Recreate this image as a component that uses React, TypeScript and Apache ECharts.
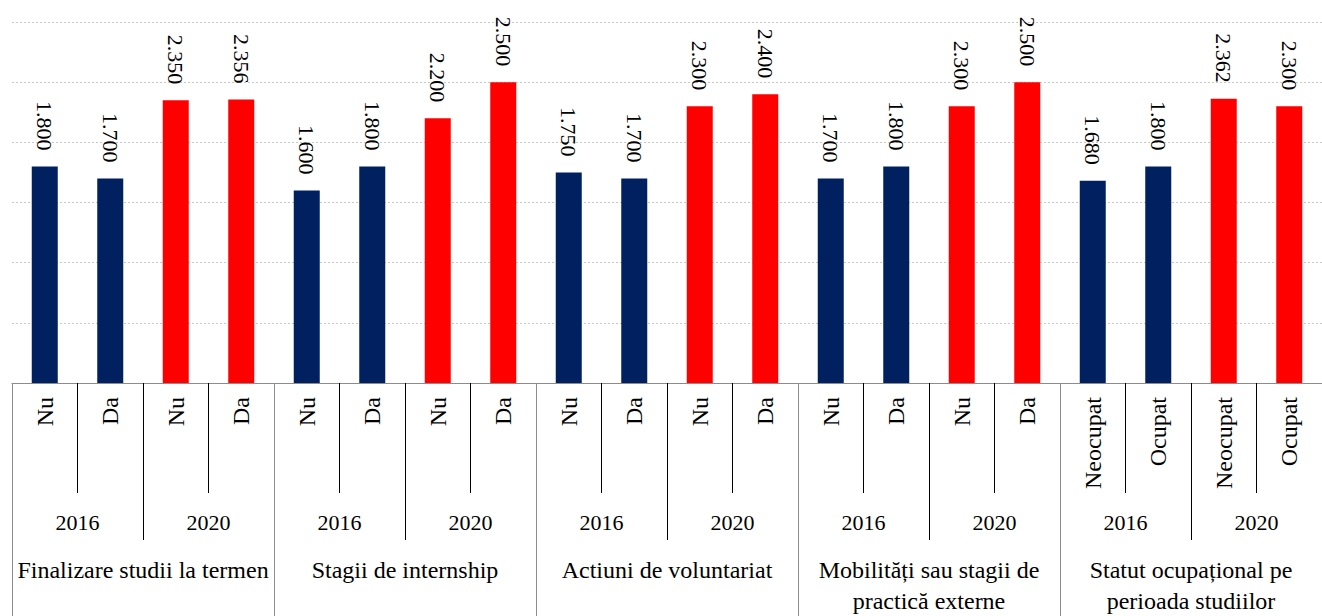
import React, { useEffect, useRef } from "react";
import * as echarts from "echarts";

const subLabels = [
  "Nu", "Da", "Nu", "Da",
  "Nu", "Da", "Nu", "Da",
  "Nu", "Da", "Nu", "Da",
  "Nu", "Da", "Nu", "Da",
  "Neocupat", "Ocupat", "Neocupat", "Ocupat",
];
const yearLabels = ["2016", "2020", "2016", "2020", "2016", "2020", "2016", "2020", "2016", "2020"];
const groupLabels = [
  "Finalizare studii la termen",
  "Stagii de internship",
  "Actiuni de voluntariat",
  "Mobilități sau stagii de\npractică externe",
  "Statut ocupațional pe\nperioada studiilor",
];
const values = [
  1800, 1700, 2350, 2356,
  1600, 1800, 2200, 2500,
  1750, 1700, 2300, 2400,
  1700, 1800, 2300, 2500,
  1680, 1800, 2362, 2300,
];
const barYears = [
  "2016", "2016", "2020", "2020",
  "2016", "2016", "2020", "2020",
  "2016", "2016", "2020", "2020",
  "2016", "2016", "2020", "2020",
  "2016", "2016", "2020", "2020",
];
const yearColors: Record<string, string> = { "2016": "#002060", "2020": "#FF0000" };

const FONT = "Liberation Serif";

function fmt(v: number): string {
  const th = Math.floor(v / 1000);
  const rest = String(v % 1000).padStart(3, "0");
  return th + "." + rest;
}

export default function App() {
  const ref = useRef<HTMLDivElement>(null);
  useEffect(() => {
    if (!ref.current) return;
    const chart = echarts.init(ref.current, null, { renderer: "svg" });
    chart.setOption({
      animation: false,
      textStyle: { fontFamily: FONT },
      grid: { left: 12, right: 0, top: 22, bottom: 230, containLabel: false },
      xAxis: [
        {
          type: "category",
          data: subLabels,
          position: "bottom",
          axisLine: { show: true, lineStyle: { color: "#8c8c8c", width: 1 } },
          axisTick: { show: true, interval: 0, length: 110, lineStyle: { color: "#000", width: 1 } },
          axisLabel: {
            interval: 0,
            rotate: 90,
            margin: 14,
            fontFamily: FONT,
            fontSize: 24,
            color: "#000",
          },
        },
        {
          type: "category",
          data: yearLabels,
          position: "bottom",
          axisLine: { show: false },
          axisTick: { show: true, interval: 0, length: 157, lineStyle: { color: "#000", width: 1 } },
          axisLabel: {
            interval: 0,
            margin: 127,
            fontFamily: FONT,
            fontSize: 22,
            lineHeight: 24,
            color: "#000",
          },
        },
        {
          type: "category",
          data: groupLabels,
          position: "bottom",
          axisLine: { show: false },
          axisTick: { show: true, interval: 0, length: 240, lineStyle: { color: "#8c8c8c", width: 1 } },
          axisLabel: {
            interval: 0,
            margin: 171,
            fontFamily: FONT,
            fontSize: 24,
            lineHeight: 31,
            color: "#000",
          },
        },
      ],
      yAxis: {
        type: "value",
        min: 0,
        max: 3000,
        interval: 500,
        axisLabel: { show: false },
        axisLine: { show: false },
        axisTick: { show: false },
        splitLine: { show: true, lineStyle: { color: "#c8c8c8", type: [2, 2], width: 1 } },
      },
      series: [
        {
          type: "bar",
          xAxisIndex: 0,
          barWidth: 26,
          data: values.map((v, i) => ({
            value: v,
            itemStyle: { color: yearColors[barYears[i]] },
          })),
          label: {
            show: true,
            position: "top",
            distance: 16,
            rotate: -90,
            align: "right",
            verticalAlign: "middle",
            fontFamily: FONT,
            fontSize: 22,
            color: "#000",
            formatter: (p: any) => fmt(p.value),
          },
        },
      ],
    });
    return () => chart.dispose();
  }, []);
  return (
    <div
      ref={ref}
      style={{ position: "fixed", left: 0, top: 0, width: 1322, height: 616, background: "#fff" }}
    />
  );
}
